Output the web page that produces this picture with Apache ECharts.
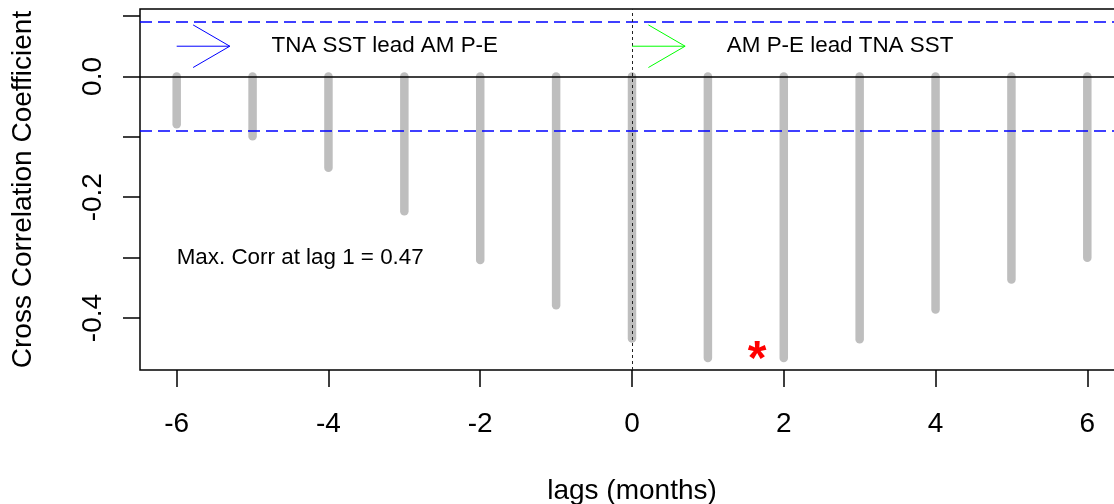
<!DOCTYPE html>
<html>
<head>
<meta charset="utf-8">
<script src="https://cdn.jsdelivr.net/npm/echarts@6/dist/echarts.min.js"></script>
<style>
  html, body { margin: 0; padding: 0; background: #fff; overflow: hidden; }
  #chart { width: 1124px; height: 504px; }
</style>
</head>
<body>
<div id="chart"></div>
<script>
// lag (months) and cross correlation
var lags = [-6, -5, -4, -3, -2, -1, 0, 1, 2, 3, 4, 5, 6]
var corr = [-0.079, -0.099, -0.151, -0.223, -0.304, -0.379, -0.434, -0.466, -0.466, -0.435, -0.386, -0.336, -0.300]
var xTicks = [-6, -4, -2, 0, 2, 4, 6]
var yTicks = [0.1, 0, -0.1, -0.2, -0.3, -0.4]
var yLabels = [0, -0.2, -0.4]
var sigLevel = 0.092
// arrows: [from, to, y]
var arrows = [[-6, -5.3, 0.05], [0, 0.7, 0.05]]
var notes = [[-4.75, 0.05, 'TNA SST lead AM P-E'], [1.25, 0.05, 'AM P-E lead TNA SST'], [-6, -0.3, 'Max. Corr at lag 1 = 0.47']]
var maxMark = [[1.65, -0.456]]

var font = "'Liberation Sans', Arial, sans-serif"
var arrowColors = ['#0000ff', '#00ff00']

var stems = lags.map(function (l, i) { return [l, corr[i]] })

var option = {
  animation: false,
  backgroundColor: '#fff',
  textStyle: { fontFamily: font, color: '#000' },
  grid: {
    left: 140,
    top: 9,
    right: 0,
    bottom: 134,
    outerBoundsMode: 'none',
    show: true,
    borderColor: '#000',
    borderWidth: 1.5
  },
  xAxis: {
    type: 'value',
    min: -6.4835,
    max: 6.4835,
    name: 'lags (months)',
    nameLocation: 'middle',
    nameGap: 107,
    nameTextStyle: { fontSize: 28, color: '#000', fontFamily: font },
    axisLine: { show: false, onZero: false },
    splitLine: { show: false },
    axisTick: { show: true, length: 17, customValues: xTicks, lineStyle: { color: '#000', width: 1.5 } },
    axisLabel: { customValues: xTicks, margin: 40, fontSize: 28, color: '#000', fontFamily: font }
  },
  yAxis: {
    type: 'value',
    min: -0.486,
    max: 0.1116,
    name: 'Cross Correlation Coefficient',
    nameLocation: 'middle',
    nameRotate: 90,
    nameGap: 103,
    nameTextStyle: { fontSize: 28, color: '#000', fontFamily: font },
    axisLine: { show: false, onZero: false },
    splitLine: { show: false },
    axisTick: { show: true, length: 17, customValues: yTicks, lineStyle: { color: '#000', width: 1.5 } },
    axisLabel: {
      customValues: yLabels,
      rotate: 90,
      margin: 33,
      fontSize: 28,
      color: '#000',
      fontFamily: font,
      formatter: function (v) { return v.toFixed(1) }
    }
  },
  series: [{
    type: 'custom',
    name: 'ccf',
    data: stems,
    z: 2,
    renderItem: function (params, api) {
      var p0 = api.coord([api.value(0), 0])
      var p1 = api.coord([api.value(0), api.value(1)])
      return {
        type: 'line',
        shape: { x1: p0[0], y1: p0[1], x2: p1[0], y2: p1[1] },
        style: { stroke: '#bebebe', lineWidth: 8.5, lineCap: 'round' }
      }
    }
  }, {
    type: 'line',
    data: [],
    z: 4,
    markLine: {
      silent: true,
      symbol: ['none', 'none'],
      label: { show: false },
      data: [
        { yAxis: 0, lineStyle: { color: '#000', width: 1.5, type: 'solid' } },
        { yAxis: sigLevel, lineStyle: { color: '#0000ff', width: 1.5, type: [12, 6] } },
        { yAxis: -sigLevel, lineStyle: { color: '#0000ff', width: 1.5, type: [12, 6] } },
        { xAxis: 0, lineStyle: { color: '#222', width: 1, type: [3, 3] } }
      ]
    }
  }, {
    type: 'custom',
    name: 'arrows',
    data: arrows,
    z: 5,
    renderItem: function (params, api) {
      var a = api.coord([api.value(0), api.value(2)])
      var b = api.coord([api.value(1), api.value(2)])
      var color = arrowColors[params.dataIndex]
      var hx = 36.7, hy = 21.3
      return {
        type: 'group',
        children: [{
          type: 'line',
          shape: { x1: a[0], y1: a[1], x2: b[0], y2: b[1] },
          style: { stroke: color, lineWidth: 1 }
        }, {
          type: 'polyline',
          shape: { points: [[b[0] - hx, b[1] - hy], [b[0], b[1]], [b[0] - hx, b[1] + hy]] },
          style: { stroke: color, fill: null, lineWidth: 1 }
        }]
      }
    }
  }, {
    type: 'scatter',
    name: 'notes',
    data: notes,
    symbolSize: 0,
    z: 6,
    itemStyle: { opacity: 1 },
    label: {
      show: true,
      position: 'right',
      distance: 0,
      fontSize: 22.4,
      color: '#000',
      fontFamily: font,
      formatter: function (p) { return p.data[2] }
    }
  }, {
    type: 'scatter',
    name: 'max',
    data: maxMark,
    symbolSize: 0,
    z: 6,
    itemStyle: { opacity: 1 },
    label: {
      show: true,
      position: 'inside',
      offset: [0, 9],
      fontSize: 48,
      fontWeight: 'bold',
      color: '#ff0000',
      fontFamily: font,
      formatter: '*'
    }
  }]
}

var chart = echarts.init(document.getElementById('chart'))
chart.setOption(option)
</script>
</body>
</html>
